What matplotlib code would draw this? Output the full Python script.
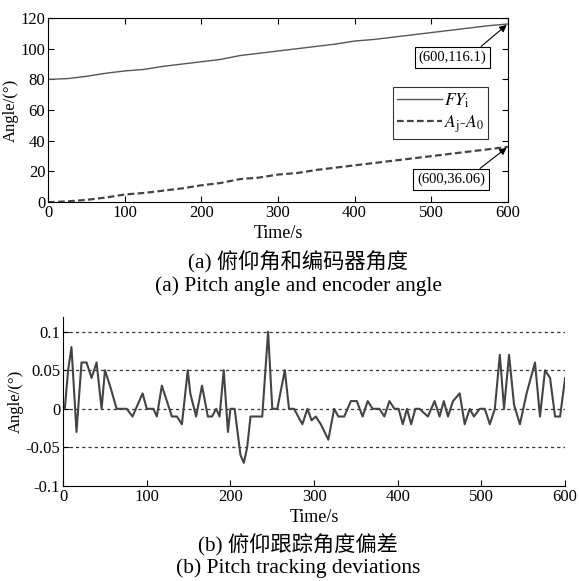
import numpy as np
import matplotlib.pyplot as plt

plt.rcParams['font.family'] = ['Liberation Serif', 'Noto Sans CJK SC']
plt.rcParams['mathtext.fontset'] = 'stix'

# (a) 俯仰角和编码器角度
t_a = [0, 25, 50, 75, 100, 125, 150, 175, 200, 225, 250, 275, 300,
       325, 350, 375, 400, 425, 450, 475, 500, 525, 550, 575, 600]
fy = [80, 80.5, 82, 84, 85.5, 86.5, 88.5, 90, 91.5, 93, 95.5, 97, 98.5,
      100, 101.5, 103, 105, 106, 107.5, 109, 110.5, 112, 113.5, 115, 116.1]
aj = [0, 0.5, 1.5, 3, 5, 6, 7.5, 9, 11, 12.5, 15, 16, 18,
      19, 21, 22.5, 24, 25.5, 27, 28.5, 30, 31.5, 33, 34.5, 36.06]

# (b) 俯仰跟踪角度偏差
t_b = [0, 2, 6, 10, 16, 22, 28, 34, 40, 46, 50, 56, 64, 76, 83, 95, 100, 108,
       112, 118, 124, 130, 136, 142, 149, 152, 159, 166, 173, 178, 183, 187,
       192, 197, 200, 205, 212, 216, 220, 224, 230, 238, 245, 250, 256, 265,
       270, 276, 281, 286, 292, 297, 302, 308, 317, 324, 329, 336, 344, 351,
       358, 364, 370, 378, 384, 390, 396, 401, 406, 411, 416, 421, 426, 436,
       444, 450, 455, 460, 466, 474, 480, 486, 491, 498, 504, 510, 516, 522,
       527, 533, 539, 546, 554, 564, 570, 576, 582, 588, 594, 600]
dev = [0, 0, 0.05, 0.08, -0.03, 0.06, 0.06, 0.04, 0.06, 0, 0.05, 0.03, 0, 0,
       -0.01, 0.02, 0, 0, -0.01, 0.03, 0.01, -0.01, -0.01, -0.02, 0.05, 0.02,
       -0.01, 0.03, -0.01, -0.01, 0, -0.01, 0.05, -0.03, 0, 0, -0.06, -0.07,
       -0.05, -0.01, -0.01, -0.01, 0.1, 0, 0, 0.05, 0, 0, -0.01, -0.02, 0,
       -0.015, -0.01, -0.02, -0.04, 0, -0.01, -0.01, 0.01, 0.01, -0.01, 0.01,
       0, 0, -0.01, 0.01, 0, 0, -0.02, 0, -0.02, 0, 0, -0.01, 0.01, -0.01,
       0.01, -0.01, 0.01, 0.02, -0.02, 0, -0.01, 0, 0, -0.02, 0, 0.07, 0,
       0.07, 0.005, -0.02, 0.02, 0.06, -0.01, 0.05, 0.04, -0.01, -0.01, 0.04]

fig = plt.figure(figsize=(5.79, 5.81), dpi=100)

ax1 = fig.add_axes([0.083, 0.652, 0.794, 0.317])
ax1.plot(t_a, fy, color='#555555', lw=1.0, label=r'$FY_\mathrm{i}$')
ax1.plot(t_a, aj, color='#444444', lw=1.6, ls='--', dashes=(3, 1.5),
         label=r'$A_\mathrm{j}$-$A_0$')
ax1.set_xlim(0, 600)
ax1.set_ylim(0, 120)
ax1.set_xticks(range(0, 601, 100))
ax1.set_yticks(range(0, 121, 20))
ax1.tick_params(direction='in', top=True, right=True, labelsize=12, length=4, pad=2)
ax1.set_xlabel('Time/s', fontsize=13, labelpad=3)
ax1.set_ylabel('Angle/(°)', fontsize=12, labelpad=1)
leg = ax1.legend(loc='center right', bbox_to_anchor=(0.957, 0.484), fontsize=12.5,
                 frameon=True, fancybox=False, edgecolor='black',
                 handlelength=2.6, borderpad=0.25, handletextpad=0.1,
                 labelspacing=0.2, borderaxespad=0)
leg.get_frame().set_linewidth(0.8)
box = dict(boxstyle='square,pad=0.25', fc='white', ec='black', lw=0.8)
ax1.annotate('(600,116.1)', xy=(600, fy[-1]), xytext=(528, 94.5), fontsize=10.5,
             ha='center', va='center', bbox=box,
             arrowprops=dict(arrowstyle='-|>', color='black', lw=0.8,
                             shrinkA=0, shrinkB=1, relpos=(0.85, 1)))
ax1.annotate('(600,36.06)', xy=(600, aj[-1]), xytext=(526, 15), fontsize=10.5,
             ha='center', va='center', bbox=box,
             arrowprops=dict(arrowstyle='-|>', color='black', lw=0.8,
                             shrinkA=0, shrinkB=1, relpos=(0.85, 1)))

cx = 0.515
fig.text(cx, 0.549, '(a) 俯仰角和编码器角度', ha='center', va='center', fontsize=15.3)
fig.text(cx, 0.507, '(a) Pitch angle and encoder angle', ha='center', va='center', fontsize=15.5)

ax2 = fig.add_axes([0.109, 0.1635, 0.867, 0.291])
ax2.plot(t_b, dev, color='#444444', lw=1.5)
for yv in [0.1, 0.05, 0, -0.05]:
    ax2.axhline(yv, color='#333333', lw=0.9, ls=(0, (2.5, 2.5)), zorder=0)
ax2.set_xlim(0, 600)
ax2.set_ylim(-0.1, 0.119)
ax2.set_xticks(range(0, 601, 100))
ax2.set_yticks([-0.1, -0.05, 0, 0.05, 0.1])
ax2.set_yticklabels(['-0.1', '-0.05', '0', '0.05', '0.1'])
ax2.spines['top'].set_visible(False)
ax2.spines['right'].set_visible(False)
ax2.tick_params(direction='in', labelsize=12, length=4, pad=2)
ax2.set_xlabel('Time/s', fontsize=13, labelpad=3)
ax2.set_ylabel('Angle/(°)', fontsize=12, labelpad=1)

fig.text(cx, 0.062, '(b) 俯仰跟踪角度偏差', ha='center', va='center', fontsize=15.3)
fig.text(cx, 0.022, '(b) Pitch tracking deviations', ha='center', va='center', fontsize=15.5)

fig.savefig('out.png', dpi=100)
